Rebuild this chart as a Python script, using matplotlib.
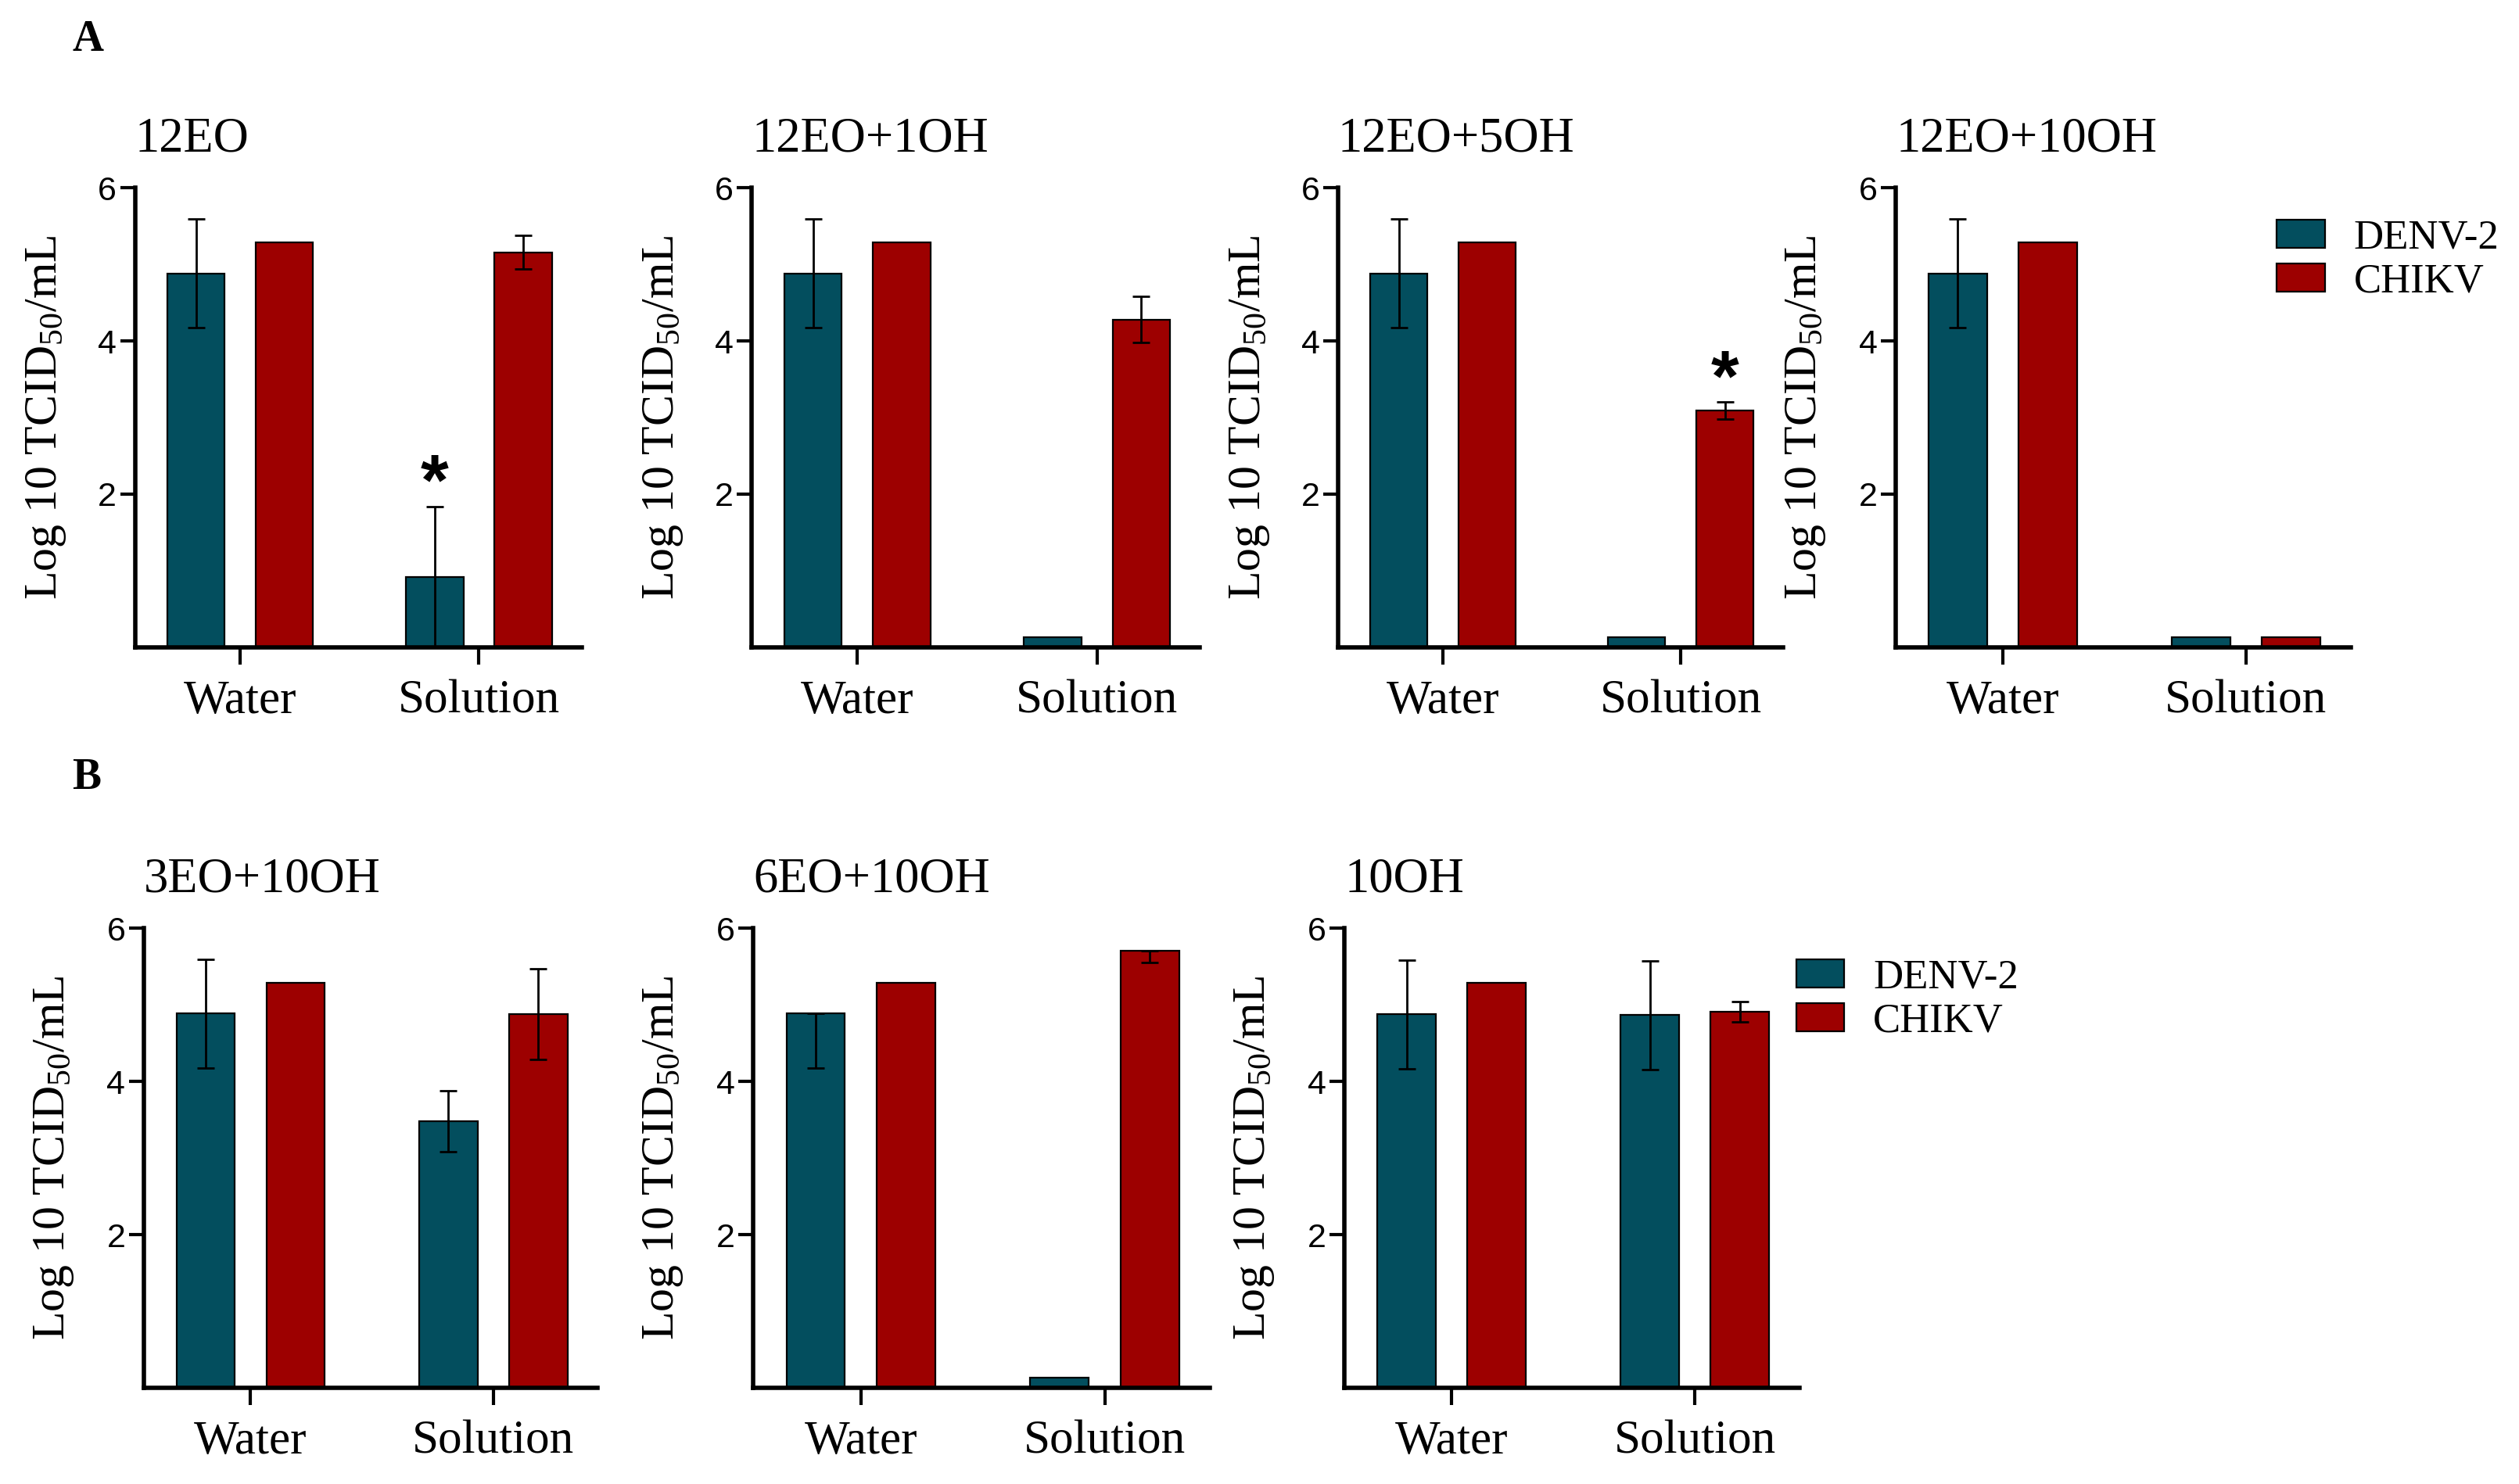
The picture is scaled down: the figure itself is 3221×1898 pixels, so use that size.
import numpy as np
import matplotlib
matplotlib.use('Agg')
import matplotlib.pyplot as plt
from matplotlib.patches import Patch
from matplotlib.font_manager import FontProperties

plt.rcParams['font.family'] = ['Liberation Serif', 'DejaVu Serif']
plt.rcParams['mathtext.fontset'] = 'custom'
plt.rcParams['mathtext.rm'] = 'Liberation Serif'
plt.rcParams['mathtext.it'] = 'Liberation Serif:italic'

# Data (log10 TCID50/mL) per panel: [Water, Solution]
titles = ['12EO', '12EO+1OH', '12EO+5OH', '12EO+10OH',
          '3EO+10OH', '6EO+10OH', '10OH']
groups = ['Water', 'Solution']
series = ['DENV-2', 'CHIKV']

denv_mean = [[4.88, 0.92], [4.88, 0.13], [4.88, 0.13], [4.88, 0.13],
             [4.89, 3.48], [4.89, 0.13], [4.88, 4.87]]
denv_err_lo = [[0.71, 0.92], [0.71, 0.0], [0.71, 0.0], [0.71, 0.0],
               [0.71, 0.40], [0.71, 0.0], [0.71, 0.71]]
denv_err_hi = [[0.71, 0.92], [0.71, 0.0], [0.71, 0.0], [0.71, 0.0],
               [0.71, 0.40], [0.0, 0.0], [0.71, 0.71]]

chikv_mean = [[5.29, 5.16], [5.29, 4.28], [5.29, 3.09], [5.29, 0.13],
              [5.29, 4.88], [5.29, 5.71], [5.29, 4.91]]
chikv_err_lo = [[0.0, 0.22], [0.0, 0.30], [0.0, 0.11], [0.0, 0.0],
                [0.0, 0.59], [0.0, 0.16], [0.0, 0.13]]
chikv_err_hi = [[0.0, 0.22], [0.0, 0.30], [0.0, 0.11], [0.0, 0.0],
                [0.0, 0.59], [0.0, 0.0], [0.0, 0.13]]

# significance marks: (panel, group, series index)
stars = [(0, 1, 0), (2, 1, 1)]

COLORS = ['#034e5e', '#9d0000']

# axes rects (figure fractions)
rects = [
    (0.0536, 0.5639, 0.1773, 0.3095),
    (0.2985, 0.5639, 0.1779, 0.3095),
    (0.5312, 0.5639, 0.1767, 0.3095),
    (0.7526, 0.5639, 0.1805, 0.3095),
    (0.0571, 0.0649, 0.1802, 0.3095),
    (0.2991, 0.0649, 0.1811, 0.3095),
    (0.5338, 0.0649, 0.1805, 0.3095),
]

fig = plt.figure(figsize=(16.105, 9.49), dpi=200)

x = np.arange(len(groups))
offs = [-0.185, 0.185]
width = 0.24

for p, title in enumerate(titles):
    ax = fig.add_axes(rects[p])
    means = [denv_mean[p], chikv_mean[p]]
    lo = [denv_err_lo[p], chikv_err_lo[p]]
    hi = [denv_err_hi[p], chikv_err_hi[p]]
    for s in range(2):
        ax.bar(x + offs[s], means[s], width, color=COLORS[s],
               edgecolor='black', linewidth=0.8, zorder=2)
        for g in range(len(groups)):
            if lo[s][g] > 0 or hi[s][g] > 0:
                ax.errorbar(x[g] + offs[s], means[s][g],
                            yerr=[[lo[s][g]], [hi[s][g]]], fmt='none',
                            ecolor='black', elinewidth=1.0, capsize=3.8,
                            capthick=1.0, zorder=3, clip_on=False)
    for (sp, sg, ss) in stars:
        if sp == p:
            m = [denv_mean, chikv_mean][ss][p][sg]
            e = [denv_err_hi, chikv_err_hi][ss][p][sg]
            ax.text(x[sg] + offs[ss], m + e + 0.27, '*', ha='center',
                    va='center', fontsize=33, fontweight='bold',
                    family='Liberation Sans')

    ax.set_xlim(-0.44, 1.43)
    ax.set_ylim(0, 6)
    ax.set_yticks([2, 4, 6])
    ax.set_xticks(x)
    ax.set_xticklabels(groups)
    for lab in ax.get_xticklabels():
        lab.set_fontproperties(FontProperties(family='Liberation Serif',
                                              size=22))
    for lab in ax.get_yticklabels():
        lab.set_fontproperties(FontProperties(family='Liberation Sans',
                                              size=15.5))
    ax.tick_params(axis='y', length=7, width=1.5, pad=1.5)
    ax.tick_params(axis='x', length=8, width=1.5, pad=7)
    for side in ['top', 'right']:
        ax.spines[side].set_visible(False)
    for side in ['left', 'bottom']:
        ax.spines[side].set_linewidth(2.0)
    ax.set_ylabel(r'Log 10 TCID$_{50}$/mL', fontsize=21.5)
    ax.yaxis.set_label_coords(-0.15, 0.5)
    ax.set_title(title, loc='left', fontsize=22.5, pad=17)

handles = [Patch(facecolor=COLORS[i], edgecolor='black', linewidth=0.8,
                 label=series[i]) for i in range(2)]
for bx, by in [(0.9037, 0.8247), (0.713, 0.3263)]:
    fig.legend(handles=handles, loc='center left', bbox_to_anchor=(bx, by),
               frameon=False, fontsize=19, borderpad=0, borderaxespad=0,
               handlelength=1.17, handleheight=0.66, handletextpad=0.7,
               labelspacing=0.15)

fig.text(0.0286, 0.973, 'A', fontsize=20, fontweight='bold', va='center')
fig.text(0.0286, 0.476, 'B', fontsize=20, fontweight='bold', va='center')

fig.savefig('out.png', dpi=200)
